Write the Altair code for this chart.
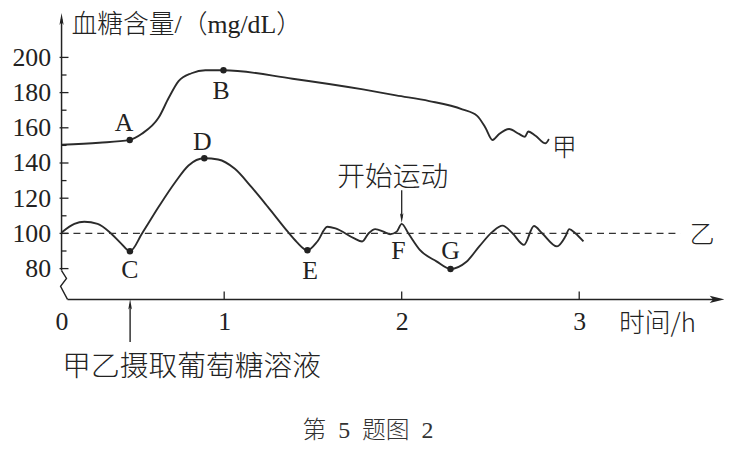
import altair as alt
import pandas as pd

# ---- data: time (h), blood glucose (mg/dL) ----
jia_t = [0.084, 0.296, 0.468, 0.536, 0.631, 0.687, 0.743, 0.816, 0.894, 0.996, 1.385,
         1.782, 1.968, 2.155, 2.341, 2.425, 2.471, 2.512, 2.549, 2.605, 2.661, 2.694,
         2.713, 2.754, 2.810, 2.829]
jia_v = [150.4, 151.5, 153.1, 156.6, 165.8, 176.9, 186.5, 191.0, 192.7, 192.7, 187.9,
         181.8, 178.4, 175.2, 170.5, 166.8, 160.2, 153.1, 156.5, 159.3, 156.5, 154.9,
         157.9, 155.5, 151.2, 153.6]

yi_t = [0.084, 0.156, 0.212, 0.287, 0.361, 0.417, 0.469, 0.538, 0.631, 0.725, 0.799,
        0.888, 0.966, 1.060, 1.153, 1.246, 1.358, 1.408, 1.469, 1.525, 1.581, 1.627,
        1.730, 1.777, 1.814, 1.851, 1.898, 1.935, 1.972, 2.000, 2.037, 2.102, 2.196,
        2.275, 2.363, 2.437, 2.512, 2.568, 2.624, 2.689, 2.745, 2.791, 2.875, 2.922,
        2.944, 2.978, 3.024]
yi_v = [100.5, 105.4, 106.6, 105.4, 100.1, 94.5, 89.9, 100.1, 115.1, 129.2, 138.6,
        142.7, 142.0, 136.7, 126.4, 115.1, 101.0, 95.2, 90.4, 95.4, 103.8, 102.9,
        97.3, 95.4, 100.1, 102.4, 101.0, 99.5, 101.0, 105.4, 100.1, 90.7, 84.1,
        79.8, 83.7, 92.6, 101.0, 104.4, 100.1, 93.5, 104.2, 100.1, 92.6, 98.2,
        102.4, 100.1, 95.4]

dot_names = ["A", "B", "C", "D", "E", "G"]
dot_t = [0.468, 0.996, 0.469, 0.888, 1.469, 2.275]
dot_v = [153.1, 192.7, 89.9, 142.7, 90.4, 79.8]

letter_names = ["A", "B", "C", "D", "E", "F", "G"]
letter_t = [0.436, 0.983, 0.469, 0.877, 1.484, 1.982, 2.275]
letter_v = [162.8, 180.8, 79.4, 152.1, 78.5, 89.7, 89.7]

normal_level = 100
y_major = [80, 100, 120, 140, 160, 180, 200]
y_minor = [90, 110, 130, 150, 170, 190]
x_ticks = [1, 2, 3]
x_origin = 0.0838

cjk_labels = ["甲", "乙", "开始运动", "甲乙摄取葡萄糖溶液", "时间/h"]
cjk_t = [2.916, 3.693, 1.950, 0.816, 3.441]
cjk_v = [148.7, 99.2, 131.3, 24.2, 48.7]
cjk_size = [25, 25, 28, 29, 26]

title_text = "血糖含量/（mg/dL）"
caption_text = "第\u20025\u2002题图\u20022"

# ---- scales & shared axes ----
xs = alt.Scale(domain=[x_origin, 3.8045], nice=False, zero=False)
ys = alt.Scale(domain=[62.5, 221.4], nice=False, zero=False)
INK = "#222222"
SERIF = "Liberation Serif"
CJK = "Noto Sans CJK SC"
MIX = "Liberation Serif, Noto Sans CJK SC"

AX_X = alt.Axis(values=[x_origin] + x_ticks, format="d", ticks=False, domain=False, grid=False,
                labelFlush=False, labelFont=SERIF, labelFontSize=26, labelColor=INK,
                labelPadding=9, title=None)
AX_Y = alt.Axis(values=y_major, ticks=False, domain=False, grid=False, labelFont=SERIF,
                labelFontSize=26, labelColor=INK, labelPadding=11, title=None)


def X(f="t"):
    return alt.X(f"{f}:Q", scale=xs, axis=AX_X)


def Y(f="v"):
    return alt.Y(f"{f}:Q", scale=ys, axis=AX_Y)


jia = pd.DataFrame({"t": jia_t, "v": jia_v})
yi = pd.DataFrame({"t": yi_t, "v": yi_v})

line_jia = alt.Chart(jia).mark_line(color="#2b2b2b", strokeWidth=1.9, interpolate="monotone").encode(
    x=X(), y=Y())
line_yi = alt.Chart(yi).mark_line(color="#2b2b2b", strokeWidth=1.9, interpolate="monotone").encode(
    x=X(), y=Y())

dashed = alt.Chart(pd.DataFrame({"t": [x_origin], "t2": [3.57], "v": [normal_level]})).mark_rule(
    strokeDash=[7, 5], strokeWidth=1.3, color="#333333").encode(x=X(), x2="t2:Q", y=Y())

dots = alt.Chart(pd.DataFrame({"t": dot_t, "v": dot_v, "n": dot_names})).mark_circle(
    size=42, color=INK, opacity=1).encode(x=X(), y=Y())

letters = alt.Chart(pd.DataFrame({"t": letter_t, "v": letter_v, "label": letter_names})).mark_text(
    font=SERIF, fontSize=26, color=INK, baseline="middle", align="center").encode(
    x=X(), y=Y(), text="label:N")

cjk = alt.Chart(pd.DataFrame({"t": cjk_t, "v": cjk_v, "label": cjk_labels, "fs": cjk_size})).mark_text(
    font=CJK, fontWeight=300, color=INK, baseline="middle", align="center").encode(
    x=X(), y=Y(), text="label:N", size=alt.Size("fs:Q", scale=None, legend=None))

title = alt.Chart(pd.DataFrame({"t": [0.14], "v": [218.4], "label": [title_text]})).mark_text(
    font=MIX, fontSize=26, fontWeight=300, color=INK, baseline="middle", align="left").encode(
    x=X(), y=Y(), text="label:N")

caption = alt.Chart(pd.DataFrame({"t": [1.81], "v": [-12.5], "label": [caption_text]})).mark_text(
    font=MIX, fontSize=24, fontWeight=300, color="#333333", baseline="middle", align="center").encode(
    x=X(), y=Y(), text="label:N")

# axis lines with break and arrowheads
y_line = alt.Chart(pd.DataFrame({"t": [x_origin], "v": [78.9], "v2": [221.8]})).mark_rule(
    color=INK, strokeWidth=1.5).encode(x=X(), y=Y(), y2="v2:Q")
zig = alt.Chart(pd.DataFrame({"t": [0.0838, 0.1117, 0.0782, 0.1173],
                              "v": [78.9, 74.4, 69.9, 62.5], "o": [0, 1, 2, 3]})).mark_line(
    color=INK, strokeWidth=1.4).encode(x=X(), y=Y(), order="o:O")
x_line = alt.Chart(pd.DataFrame({"t": [0.1173], "t2": [3.777], "v": [62.5]})).mark_rule(
    color=INK, strokeWidth=1.5).encode(x=X(), x2="t2:Q", y=Y())

UP = "M0,-1L0.35,1L0,0.55L-0.35,1Z"
DOWN = "M0,1L0.35,-1L0,-0.55L-0.35,-1Z"
RIGHT = "M1,0L-1,0.5L-0.55,0L-1,-0.5Z"

y_head = alt.Chart(pd.DataFrame({"t": [x_origin], "v": [221.8]})).mark_point(
    shape=UP, size=144, filled=True, color=INK, opacity=1).encode(x=X(), y=Y())
x_head = alt.Chart(pd.DataFrame({"t": [3.777], "v": [62.5]})).mark_point(
    shape=RIGHT, size=225, filled=True, color=INK, opacity=1).encode(x=X(), y=Y())

y_major_ticks = alt.Chart(pd.DataFrame({"v": y_major})).mark_rule(color=INK, strokeWidth=1.3).encode(
    x=alt.value(-2), x2=alt.value(7), y=Y())
y_minor_ticks = alt.Chart(pd.DataFrame({"v": y_minor})).mark_rule(color=INK, strokeWidth=1.3).encode(
    x=alt.value(0), x2=alt.value(5), y=Y())
x_tick_marks = alt.Chart(pd.DataFrame({"t": x_ticks})).mark_rule(color=INK, strokeWidth=1.3).encode(
    x=X(), y=alt.value(274), y2=alt.value(282))

# event arrows
ingest = alt.Chart(pd.DataFrame({"t": [0.47], "v": [38.3], "v2": [59.7]})).mark_rule(
    color=INK, strokeWidth=1.4).encode(x=X(), y=Y(), y2="v2:Q")
ingest_head = alt.Chart(pd.DataFrame({"t": [0.47], "v": [59.7]})).mark_point(
    shape=UP, size=110, filled=True, color=INK, opacity=1).encode(x=X(), y=Y())
exercise = alt.Chart(pd.DataFrame({"t": [2.0], "v": [124.5], "v2": [108.7]})).mark_rule(
    color=INK, strokeWidth=1.3).encode(x=X(), y=Y(), y2="v2:Q")
exercise_head = alt.Chart(pd.DataFrame({"t": [2.0], "v": [108.7]})).mark_point(
    shape=DOWN, size=100, filled=True, color=INK, opacity=1).encode(x=X(), y=Y())

chart = alt.layer(
    line_jia, line_yi, dashed, dots, letters, cjk, title, caption,
    y_line, zig, x_line, y_head, x_head, y_major_ticks, y_minor_ticks, x_tick_marks,
    ingest, ingest_head, exercise, exercise_head,
).properties(
    width=666, height=282,
    autosize=alt.AutoSizeParams(type="none"),
    padding={"left": 54, "top": 10, "right": 2, "bottom": 147},
    background="white",
).configure_view(stroke=None)

chart.save("out.html", embed_options={"renderer": "svg", "actions": False})
